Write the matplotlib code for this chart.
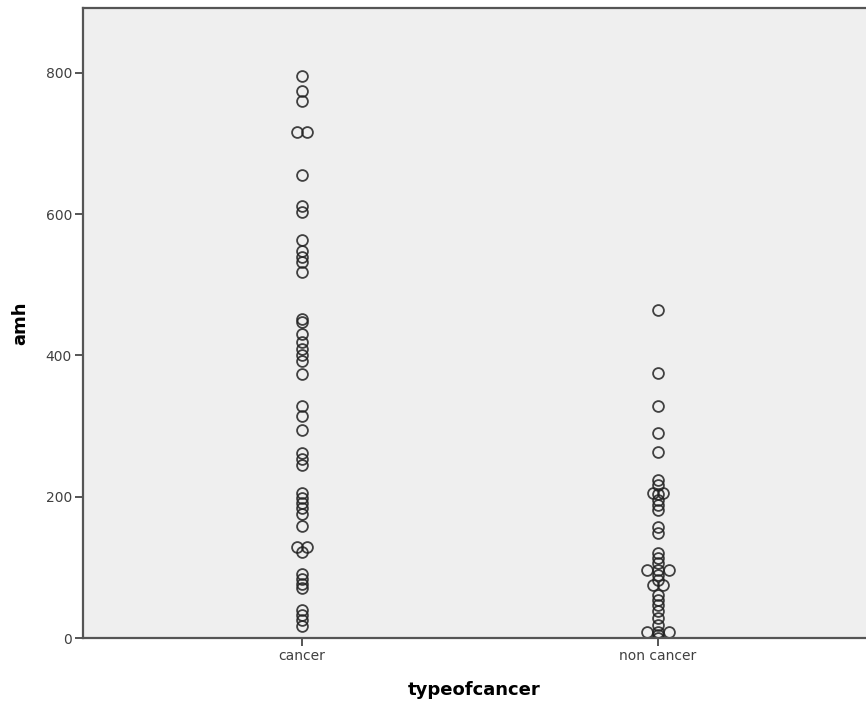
import numpy as np
import matplotlib
matplotlib.use("Agg")
import matplotlib.pyplot as plt

categories = ["cancer", "non cancer"]
cancer_amh = [796, 775, 761, 716, 716, 656, 611, 603, 564, 548, 540, 533, 518,
              452, 447, 430, 419, 409, 401, 392, 374, 328, 314, 294, 262, 254,
              245, 205, 198, 191, 184, 176, 159, 129, 129, 122, 91, 84, 77, 71,
              40, 33, 26, 17]
non_cancer_amh = [465, 375, 328, 290, 264, 224, 217, 206, 206, 204, 196, 188,
                  181, 157, 149, 120, 113, 106, 96, 96, 96, 89, 82, 75, 75, 61,
                  54, 47, 38, 28, 18, 8, 8, 8, 4, 0]
y_ticks = [0, 200, 400, 600, 800]

fig = plt.figure(figsize=(8.66, 7.04), dpi=100)
ax = fig.add_axes([83 / 866, 66 / 704, 1 - 83 / 866, 630 / 704])
ax.set_facecolor("#efefef")

# stack identical values side by side, like SPSS does
step = 0.03
for i, vals in enumerate([cancer_amh, non_cancer_amh]):
    xs, ys = [], []
    for v in sorted(set(vals)):
        n = vals.count(v)
        for k in range(n):
            xs.append(i + (k - (n - 1) / 2) * step)
            ys.append(v)
    ax.plot(xs, ys, linestyle="none", marker="o", markersize=7.8,
            markerfacecolor="none", markeredgecolor="#222222",
            markeredgewidth=1.3, alpha=0.85)

ax.set_xlim(-219 / 356, 1 + 208 / 356)
ax.set_ylim(0, 892)
ax.set_xticks(range(len(categories)))
ax.set_xticklabels(categories)
ax.set_yticks(y_ticks)

for s in ["left", "bottom", "top"]:
    ax.spines[s].set_color("#555555")
    ax.spines[s].set_linewidth(1.6)
ax.spines["right"].set_visible(False)

ax.tick_params(axis="both", length=6, width=1.4, color="#555555",
               labelsize=10, labelcolor="#404040", pad=2)

ax.set_xlabel("typeofcancer", fontsize=13, fontweight="bold", labelpad=13)
ax.set_ylabel("amh", fontsize=13, fontweight="bold", labelpad=12)

fig.savefig("out.png", dpi=100)
